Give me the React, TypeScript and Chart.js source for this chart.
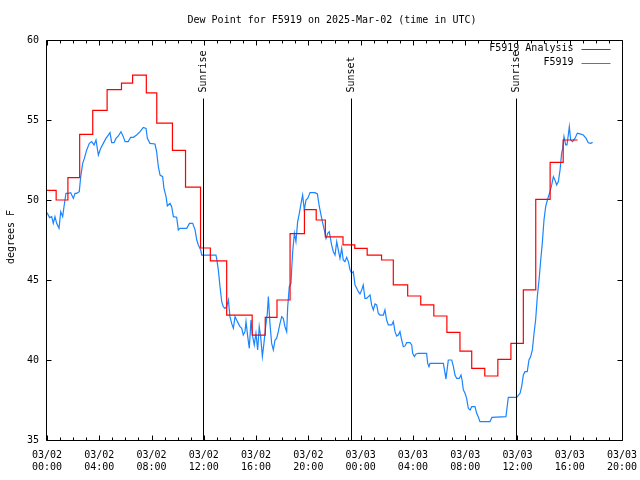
import React, { useEffect, useRef } from 'react';
import { Chart, registerables } from 'chart.js';

Chart.register(...registerables);

const FONT = '"DejaVu Sans Mono", "Liberation Mono", monospace';

const titleText = 'Dew Point for F5919 on 2025-Mar-02 (time in UTC)';
const yAxisTitle = 'degrees F';

// x axis: hours since 03/02 00:00 UTC
const xTickDates = ['03/02', '03/02', '03/02', '03/02', '03/02', '03/02', '03/03', '03/03', '03/03', '03/03', '03/03', '03/03'];
const xTickTimes = ['00:00', '04:00', '08:00', '12:00', '16:00', '20:00', '00:00', '04:00', '08:00', '12:00', '16:00', '20:00'];
const yTickValues = [35, 40, 45, 50, 55, 60];

const eventTimes = [11.9, 23.28, 35.86];
const eventLabels = ['Sunrise', 'Sunset', 'Sunrise'];

// F5919 Analysis (step function: value starts at time)
const redTimes = [0, 0.7, 1.6, 2.5, 3.5, 4.6, 5.7, 6.55, 7.6, 8.4, 9.6, 10.6, 11.75, 12.5, 13.75, 15.7, 16.7, 17.6, 18.6, 19.7, 20.6, 21.3, 22.65, 23.55, 24.5, 25.6, 26.5, 27.6, 28.6, 29.6, 30.6, 31.6, 32.5, 33.5, 34.5, 35.5, 36.45, 37.4, 38.5, 39.5, 40.6];
const redValues = [50.6, 50.0, 51.4, 54.1, 55.6, 56.9, 57.3, 57.8, 56.7, 54.8, 53.1, 50.8, 47.0, 46.2, 42.8, 41.56, 42.67, 43.75, 47.9, 49.4, 48.75, 47.7, 47.2, 46.98, 46.56, 46.25, 44.69, 44.0, 43.44, 42.75, 41.73, 40.56, 39.48, 39.0, 40.04, 41.04, 44.38, 50.04, 52.35, 53.75, 53.75];

// F5919 observations
const blueTimes = [0, 0.2, 0.36, 0.48, 0.61, 0.74, 0.92, 1.05, 1.2, 1.3, 1.45, 1.63, 1.81, 2.02, 2.14, 2.27, 2.47, 2.58, 2.73, 2.86, 3.04, 3.24, 3.42, 3.6, 3.75, 3.93, 4.11, 4.31, 4.51, 4.69, 4.82, 4.95, 5.13, 5.28, 5.46, 5.66, 5.84, 5.97, 6.22, 6.4, 6.61, 6.86, 7.12, 7.37, 7.58, 7.68, 7.88, 8.26, 8.39, 8.52, 8.65, 8.85, 8.95, 9.11, 9.21, 9.41, 9.54, 9.67, 9.92, 10.05, 10.18, 10.69, 10.9, 11.15, 11.33, 11.46, 11.58, 11.76, 11.84, 12.93, 12.98, 13.11, 13.24, 13.37, 13.49, 13.62, 13.75, 13.88, 14.0, 14.13, 14.26, 14.39, 14.51, 14.64, 14.77, 14.9, 15.02, 15.15, 15.23, 15.36, 15.48, 15.61, 15.74, 15.86, 15.99, 16.12, 16.24, 16.35, 16.48, 16.6, 16.73, 16.86, 16.94, 17.06, 17.19, 17.32, 17.45, 17.57, 17.7, 17.83, 17.96, 18.08, 18.21, 18.34, 18.42, 18.54, 18.67, 18.72, 18.8, 18.93, 19.05, 19.18, 19.31, 19.44, 19.56, 19.69, 19.82, 19.95, 20.13, 20.51, 20.69, 20.84, 20.97, 21.1, 21.22, 21.35, 21.48, 21.6, 21.78, 21.91, 22.04, 22.17, 22.29, 22.42, 22.55, 22.67, 22.8, 22.93, 23.06, 23.19, 23.31, 23.44, 23.57, 23.7, 23.82, 23.95, 24.08, 24.2, 24.33, 24.46, 24.59, 24.72, 24.84, 24.97, 25.1, 25.23, 25.35, 25.48, 25.74, 25.86, 25.99, 26.12, 26.38, 26.5, 26.63, 26.76, 26.88, 27.01, 27.14, 27.27, 27.4, 27.52, 27.78, 27.91, 27.98, 28.11, 28.24, 28.41, 29.05, 29.13, 29.23, 29.31, 30.33, 30.46, 30.53, 30.63, 30.71, 30.97, 31.1, 31.22, 31.35, 31.55, 31.68, 31.76, 31.86, 31.99, 32.11, 32.24, 32.37, 32.5, 32.75, 32.88, 33.0, 33.13, 33.9, 34.05, 35.12, 35.3, 35.94, 36.2, 36.32, 36.45, 36.58, 36.75, 36.88, 37.01, 37.14, 37.27, 37.39, 37.52, 37.65, 37.78, 37.9, 38.03, 38.16, 38.29, 38.49, 38.62, 38.75, 38.87, 39.0, 39.13, 39.26, 39.38, 39.46, 39.56, 39.69, 39.79, 39.89, 39.97, 40.07, 40.22, 40.4, 40.58, 40.79, 41.04, 41.25, 41.42, 41.6, 41.75];
const blueValues = [49.21, 48.9, 48.96, 48.54, 48.96, 48.54, 48.23, 49.27, 48.96, 49.58, 50.42, 50.42, 50.46, 50.1, 50.42, 50.42, 50.52, 51.46, 52.29, 52.6, 53.13, 53.54, 53.65, 53.44, 53.75, 52.81, 53.23, 53.54, 53.85, 54.06, 54.21, 53.58, 53.58, 53.85, 54.0, 54.27, 53.96, 53.65, 53.65, 53.92, 53.92, 54.06, 54.27, 54.54, 54.48, 53.85, 53.54, 53.5, 53.02, 52.08, 51.56, 51.46, 50.73, 50.21, 49.63, 49.79, 49.58, 48.96, 48.92, 48.13, 48.23, 48.23, 48.54, 48.54, 48.13, 47.5, 47.19, 46.88, 46.56, 46.56, 46.35, 45.63, 44.58, 43.65, 43.33, 43.23, 43.33, 43.75, 42.71, 42.29, 41.98, 42.71, 42.5, 42.29, 42.08, 41.98, 41.56, 41.77, 42.4, 41.46, 40.73, 42.5, 41.46, 40.94, 41.67, 40.63, 42.08, 41.46, 40.21, 41.04, 42.08, 42.92, 43.96, 42.29, 41.04, 40.63, 41.25, 41.35, 41.77, 42.29, 42.71, 42.6, 42.08, 41.77, 43.33, 44.58, 44.79, 45.63, 46.77, 47.92, 47.4, 48.65, 49.17, 49.79, 50.31, 49.38, 50.0, 50.1, 50.46, 50.46, 50.38, 49.58, 49.06, 48.54, 48.13, 47.6, 47.92, 48.02, 47.19, 46.77, 46.56, 47.4, 46.88, 46.35, 46.98, 46.25, 46.15, 46.42, 46.15, 45.63, 45.42, 45.52, 44.69, 44.48, 44.27, 44.13, 44.38, 44.69, 43.85, 43.85, 43.96, 44.06, 43.44, 43.13, 43.5, 43.44, 42.92, 42.81, 42.81, 43.13, 42.5, 42.19, 42.19, 42.4, 41.77, 41.5, 41.56, 41.77, 41.25, 40.83, 40.88, 41.08, 41.08, 40.94, 40.42, 40.21, 40.38, 40.42, 40.42, 39.79, 39.58, 39.79, 39.79, 39.17, 38.81, 39.48, 40.0, 40.0, 39.58, 39.06, 38.85, 38.85, 39.06, 38.75, 38.13, 37.92, 37.6, 36.98, 36.88, 37.08, 37.08, 36.67, 36.46, 36.15, 36.15, 36.42, 36.46, 37.67, 37.67, 37.92, 38.33, 39.06, 39.27, 39.27, 40.0, 40.21, 40.63, 41.67, 42.5, 43.96, 45.0, 46.25, 47.29, 48.75, 49.58, 50.0, 50.52, 50.94, 51.46, 51.25, 50.94, 51.15, 51.88, 52.92, 53.23, 53.96, 53.44, 53.44, 54.06, 54.58, 53.75, 53.65, 53.85, 54.17, 54.13, 54.06, 53.85, 53.58, 53.54, 53.6];

const seriesNames = ['F5919 Analysis', 'F5919'];
const seriesColors = ['#ff0000', '#1a85ff'];

const decorPlugin = {
  id: 'decor',
  afterDatasetsDraw(chart: any) {
    const { ctx, chartArea: a, scales } = chart;
    const xs = scales.x;
    const ys = scales.y;
    const L = Math.round(a.left) - 0.5;
    const R = Math.round(a.right) + 0.5;
    const T = Math.round(a.top) + 0.5;
    const B = Math.round(a.bottom) + 0.5;
    ctx.save();
    ctx.strokeStyle = '#000';
    ctx.lineWidth = 1;
    ctx.beginPath();
    ctx.rect(L, T, R - L, B - T);
    // x ticks (every hour, longer every 4h)
    for (let h = Math.ceil(xs.min); h <= xs.max; h++) {
      const px = Math.round(xs.getPixelForValue(h)) + 0.5;
      const len = h % 4 === 0 ? 5 : 3;
      ctx.moveTo(px, B);
      ctx.lineTo(px, B - len);
      ctx.moveTo(px, T);
      ctx.lineTo(px, T + len);
    }
    for (const v of yTickValues) {
      const py = Math.round(ys.getPixelForValue(v)) + 0.5;
      ctx.moveTo(L, py);
      ctx.lineTo(L + 5, py);
      ctx.moveTo(R, py);
      ctx.lineTo(R - 5, py);
    }
    ctx.stroke();

    ctx.font = `10px ${FONT}`;
    ctx.fillStyle = '#000';
    // event lines
    eventTimes.forEach((t, i) => {
      const px = Math.round(xs.getPixelForValue(t)) + 0.5;
      ctx.beginPath();
      ctx.moveTo(px, B);
      ctx.lineTo(px, T + 58);
      ctx.stroke();
      ctx.save();
      ctx.translate(px, T + 52);
      ctx.rotate(-Math.PI / 2);
      ctx.textAlign = 'left';
      ctx.textBaseline = 'middle';
      ctx.fillText(eventLabels[i], 0, 0);
      ctx.restore();
    });

    // title
    ctx.textAlign = 'center';
    ctx.textBaseline = 'middle';
    ctx.fillText(titleText, 332, 20);

    // y axis title
    ctx.save();
    ctx.translate(11, 237);
    ctx.rotate(-Math.PI / 2);
    ctx.textAlign = 'center';
    ctx.textBaseline = 'middle';
    ctx.fillText(yAxisTitle, 0, 0);
    ctx.restore();

    // legend
    seriesNames.forEach((name, i) => {
      const yy = T + 8 + i * 14;
      ctx.textAlign = 'right';
      ctx.textBaseline = 'middle';
      ctx.fillStyle = '#000';
      ctx.fillText(name, R - 49, yy);
      ctx.strokeStyle = seriesColors[i];
      ctx.beginPath();
      ctx.moveTo(R - 41, Math.round(yy) + 0.5);
      ctx.lineTo(R - 12, Math.round(yy) + 0.5);
      ctx.stroke();
    });
    ctx.restore();
  },
};

export default function App() {
  const ref = useRef<HTMLCanvasElement | null>(null);

  useEffect(() => {
    if (!ref.current) return;
    const redPoints = redTimes.map((t, i) => ({ x: t, y: redValues[i] }));
    const bluePoints = blueTimes.map((t, i) => ({ x: t, y: blueValues[i] }));
    const chart = new Chart(ref.current, {
      type: 'line',
      data: {
        datasets: [
          {
            label: seriesNames[0],
            data: redPoints,
            borderColor: seriesColors[0],
            borderWidth: 1.2,
            pointRadius: 0,
            stepped: true,
            fill: false,
          },
          {
            label: seriesNames[1],
            data: bluePoints,
            borderColor: seriesColors[1],
            borderWidth: 1.2,
            pointRadius: 0,
            tension: 0,
            fill: false,
          },
        ],
      },
      options: {
        responsive: false,
        animation: false,
        events: [],
        layout: { padding: { top: 40, right: 18, left: 0, bottom: 0 } },
        plugins: {
          legend: { display: false },
          tooltip: { enabled: false },
          title: { display: false },
        },
        scales: {
          x: {
            type: 'linear',
            min: 0,
            max: 44,
            grid: { display: false, drawTicks: false },
            border: { display: false },
            ticks: {
              stepSize: 4,
              autoSkip: false,
              maxRotation: 0,
              minRotation: 0,
              padding: 9,
              color: '#000',
              font: { family: FONT, size: 10, lineHeight: 1.2 },
              callback: (v: any) => {
                const i = Math.round(Number(v) / 4);
                return [xTickDates[i] ?? '', xTickTimes[i] ?? ''];
              },
            },
            afterFit: (s: any) => {
              s.height = 40;
              s.paddingLeft = 0;
              s.paddingRight = 0;
            },
          },
          y: {
            min: 35,
            max: 60,
            grid: { display: false, drawTicks: false },
            border: { display: false },
            ticks: {
              stepSize: 5,
              padding: 8,
              color: '#000',
              font: { family: FONT, size: 10 },
            },
            afterFit: (s: any) => {
              s.width = 47;
              s.paddingTop = 0;
              s.paddingBottom = 0;
            },
          },
        },
      },
      plugins: [decorPlugin],
    });
    return () => chart.destroy();
  }, []);

  return (
    <div style={{ position: 'fixed', left: 0, top: 0, width: 640, height: 480, background: '#fff' }}>
      <canvas ref={ref} width={640} height={480} style={{ display: 'block', width: 640, height: 480 }} />
    </div>
  );
}
